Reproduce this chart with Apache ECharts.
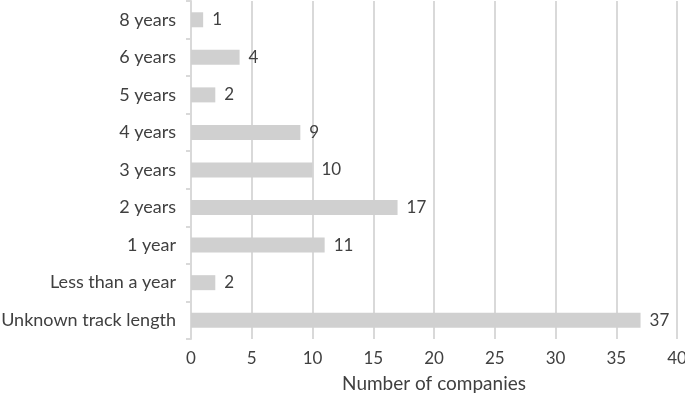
<!DOCTYPE html>
<html>
<head>
<meta charset="utf-8">
<script src="https://cdn.jsdelivr.net/npm/echarts@6/dist/echarts.min.js"></script>
<style>
  html, body { margin: 0; padding: 0; background: #fff; }
  #chart { width: 685px; height: 397px; }
</style>
</head>
<body>
<div id="chart"></div>
<script>
// categories from bottom to top
const categories = ['Unknown track length', 'Less than a year', '1 year', '2 years', '3 years', '4 years', '5 years', '6 years', '8 years'];
const companies = [37, 2, 11, 17, 10, 9, 2, 4, 1];
const xTicks = [0, 5, 10, 15, 20, 25, 30, 35, 40];

const textColor = '#404040';
const lineColor = '#d9d9d9';

const chart = echarts.init(document.getElementById('chart'));
chart.setOption({
  animation: false,
  grid: {
    left: 191,
    right: 8,
    top: 1,
    bottom: 58,
    outerBoundsMode: 'none',
    containLabel: false
  },
  xAxis: {
    type: 'value',
    min: xTicks[0],
    max: xTicks[xTicks.length - 1],
    interval: 5,
    name: 'Number of companies',
    nameLocation: 'middle',
    nameGap: 35,
    nameTextStyle: {
      color: textColor,
      fontFamily: 'Lato',
      fontSize: 19
    },
    axisLine: { show: false },
    axisTick: { show: false },
    axisLabel: {
      color: textColor,
      fontFamily: 'Lato',
      fontSize: 17,
      margin: 11
    },
    splitLine: {
      lineStyle: { color: lineColor, width: 2 }
    }
  },
  yAxis: {
    type: 'category',
    data: categories,
    axisLine: {
      lineStyle: { color: lineColor, width: 2 }
    },
    axisTick: {
      show: true,
      length: 5,
      lineStyle: { color: lineColor, width: 2 }
    },
    axisLabel: {
      color: textColor,
      fontFamily: 'Lato',
      fontSize: 18,
      margin: 15
    }
  },
  series: [{
    name: 'Number of companies',
    type: 'bar',
    data: companies,
    barWidth: 15,
    itemStyle: { color: '#d0d0d0' },
    label: {
      show: true,
      position: 'right',
      distance: 9,
      color: textColor,
      fontFamily: 'Lato',
      fontSize: 17
    }
  }]
});
</script>
</body>
</html>
